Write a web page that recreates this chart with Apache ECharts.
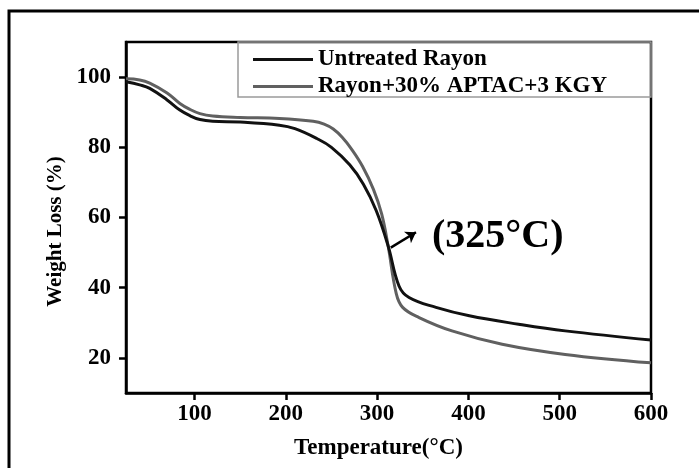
<!DOCTYPE html>
<html>
<head>
<meta charset="utf-8">
<script src="https://cdn.jsdelivr.net/npm/echarts@6/dist/echarts.min.js"></script>
<style>
  html, body { margin: 0; padding: 0; background: #fff; }
  #chart { width: 699px; height: 468px; }
</style>
</head>
<body>
<div id="chart"></div>
<script>
const untreatedTemp = [25, 40, 51, 70, 84, 95, 106, 120, 150, 193, 210, 234, 250, 270, 285, 299, 312, 324, 335, 364.5, 401, 455, 506, 600];
const untreatedWeight = [98.7, 97.8, 96.8, 93.5, 90.6, 89, 87.9, 87.4, 87.2, 86.3, 85.3, 82.5, 80, 75, 69.5, 62, 52, 40.5, 37.2, 34.4, 32, 29.6, 27.7, 25.1];

const treatedTemp = [25, 40, 51, 70, 84, 95, 106, 120, 150, 193, 230, 242, 252, 262, 272, 284, 296, 305, 312, 321, 328, 346, 382, 437, 506, 600];
const treatedWeight = [99.5, 99.2, 98.3, 95.5, 92.5, 90.8, 89.6, 88.9, 88.5, 88.2, 87.4, 86.6, 85.2, 82.8, 79.5, 74.6, 68, 61, 52, 38.3, 34.4, 31.5, 27.7, 23.9, 21, 18.6];

const seriesNames = ["Untreated Rayon", "Rayon+30% APTAC+3 KGY"];
const xTicks = [100, 200, 300, 400, 500, 600];
const yTicks = [20, 40, 60, 80, 100];
const arrowFrom = [315, 51.4];
const arrowTo = [342.6, 55.8];
const peakLabel = "(325°C)";

const font = "'Liberation Serif', 'Times New Roman', serif";
const blackColor = "#111111";
const greyColor = "#606060";

const chart = echarts.init(document.getElementById("chart"), null, { renderer: "canvas" });

const pairs = (xs, ys) => xs.map((x, i) => [x, ys[i]]);

chart.setOption({
  animation: false,
  backgroundColor: "#fff",
  grid: {
    left: 126, right: 48, top: 42, bottom: 75,
    show: true, borderColor: "#000", borderWidth: 2.5,
  },
  legend: {
    orient: "vertical",
    left: 248,
    top: 43,
    icon: "rect",
    itemWidth: 60,
    itemHeight: 3,
    itemGap: 4,
    textStyle: { color: "#000", fontFamily: font, fontWeight: "bold", fontSize: 23, lineHeight: 23 },
    data: seriesNames,
  },
  xAxis: {
    type: "value",
    min: 25,
    max: 600,
    name: "Temperature(°C)",
    nameLocation: "middle",
    nameGap: 44,
    nameTextStyle: { color: "#000", fontFamily: font, fontWeight: "bold", fontSize: 23, padding: [0, 20, 0, 0] },
    axisLine: { lineStyle: { color: "#000", width: 2.5 } },
    axisTick: { show: true, length: 7, lineStyle: { color: "#000", width: 2.5 }, customValues: xTicks },
    axisLabel: { color: "#000", fontFamily: font, fontWeight: "bold", fontSize: 23, margin: 10, customValues: xTicks },
    splitLine: { show: false },
  },
  yAxis: {
    type: "value",
    min: 10,
    max: 110,
    name: "Weight Loss (%)",
    nameLocation: "middle",
    nameGap: 56,
    nameTextStyle: { color: "#000", fontFamily: font, fontWeight: "bold", fontSize: 21, padding: [0, 28, 0, 0] },
    axisLine: { lineStyle: { color: "#000", width: 2.5 } },
    axisTick: { show: true, length: 7, lineStyle: { color: "#000", width: 2.5 }, customValues: yTicks },
    axisLabel: { color: "#000", fontFamily: font, fontWeight: "bold", fontSize: 23, margin: 15, customValues: yTicks },
    splitLine: { show: false },
  },
  series: [
    {
      name: seriesNames[0],
      type: "line",
      smooth: 0.4,
      symbol: "none",
      lineStyle: { color: blackColor, width: 3 },
      itemStyle: { color: blackColor },
      data: pairs(untreatedTemp, untreatedWeight),
      z: 3,
    },
    {
      name: seriesNames[1],
      type: "line",
      smooth: 0.4,
      symbol: "none",
      lineStyle: { color: greyColor, width: 3 },
      itemStyle: { color: greyColor },
      data: pairs(treatedTemp, treatedWeight),
      z: 2,
      markLine: {
        silent: true,
        symbol: ["none", "arrow"],
        symbolSize: 10,
        label: { show: false },
        lineStyle: { color: "#000", width: 2.5, type: "solid" },
        data: [[{ coord: arrowFrom }, { coord: arrowTo }]],
      },
    },
  ],
  graphic: [
    {
      type: "rect",
      silent: true,
      shape: { x: 238, y: 42, width: 413, height: 55 },
      style: { fill: "none", stroke: "#9a9a9a", lineWidth: 1.5 },
      z: 1,
    },
    {
      type: "rect",
      silent: true,
      shape: { x: 9, y: 11, width: 1000, height: 1000 },
      style: { fill: "none", stroke: "#000", lineWidth: 3 },
    },
    {
      type: "text",
      silent: true,
      x: 432,
      y: 237,
      style: {
        text: peakLabel,
        fill: "#000",
        font: "bold 40px " + font,
        verticalAlign: "middle",
      },
    },
  ],
});
</script>
</body>
</html>
